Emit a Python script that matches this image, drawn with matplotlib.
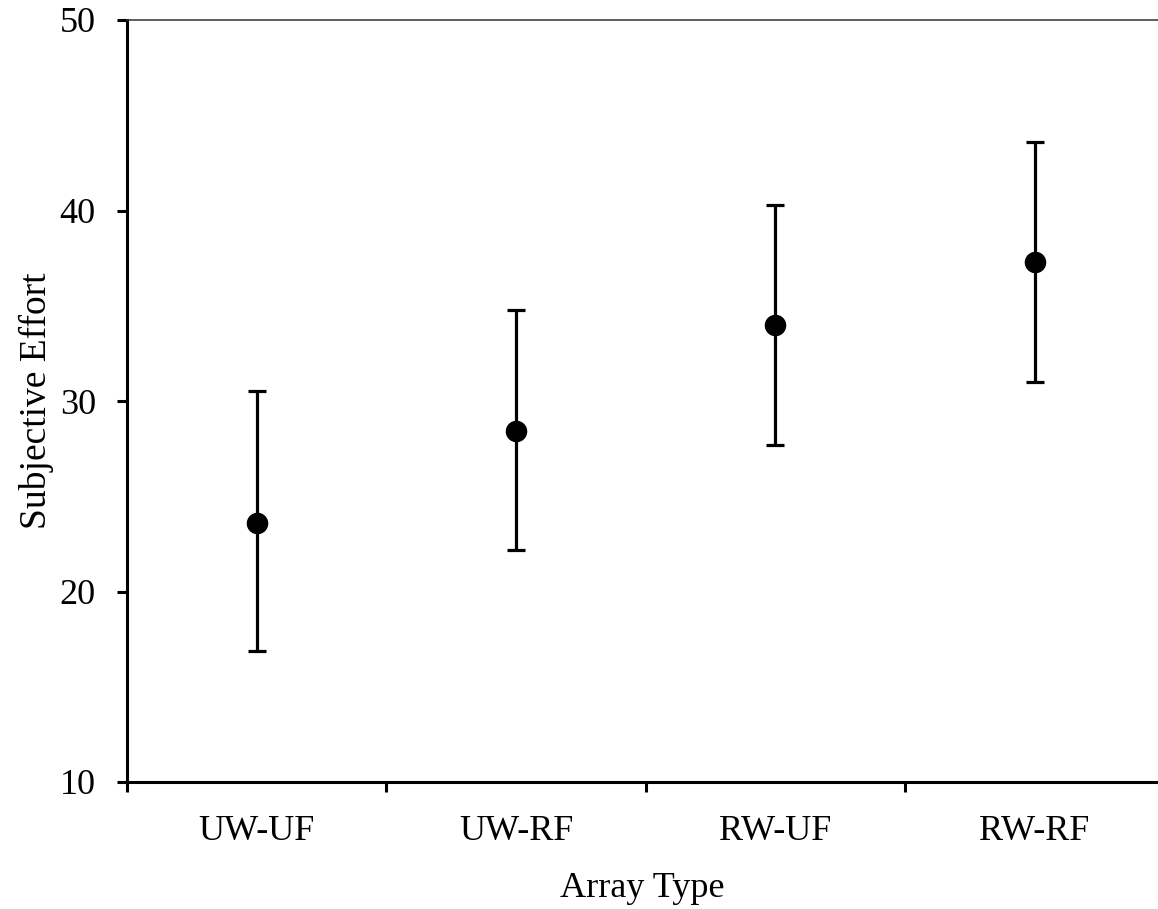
import matplotlib
matplotlib.use("Agg")
import matplotlib.pyplot as plt
import numpy as np

# data
categories = ["UW-UF", "UW-RF", "RW-UF", "RW-RF"]
means = [23.6, 28.4, 34.0, 37.3]
upper = [30.5, 34.8, 40.3, 43.6]
lower = [16.9, 22.2, 27.7, 31.0]

plt.rcParams["font.family"] = ["Liberation Serif", "DejaVu Serif"]

fig = plt.figure(figsize=(11.58, 9.09), dpi=100)
ax = fig.add_axes([127 / 1158, 1 - 782 / 909, 1 - 127 / 1158, (782 - 20) / 909])

x = np.arange(len(categories)) + 0.5
m = np.array(means)
yerr = [m - np.array(lower), np.array(upper) - m]
ax.errorbar(x, m, yerr=yerr, fmt="o", color="black", ms=14.5, elinewidth=2.3,
            capsize=6.5, capthick=2.3, zorder=3)

ax.set_xlim(0, 1031 / 259.3)
ax.set_ylim(10, 50)
ax.set_yticks([10, 20, 30, 40, 50])

# category labels centred between tick marks
ax.set_xticks(x)
ax.set_xticklabels(categories)
ax.set_xticks(np.arange(0, 4), minor=True)
ax.tick_params(axis="x", which="major", length=0, pad=24, labelsize=26)
ax.tick_params(axis="x", which="minor", direction="out", length=7.5, width=2.2)
ax.tick_params(axis="y", direction="out", length=7.5, width=2.2, pad=15, labelsize=26)

for side in ("left", "bottom"):
    ax.spines[side].set_linewidth(2.2)
ax.spines["top"].set_linewidth(1.1)
ax.spines["top"].set_color("#333333")
ax.spines["right"].set_visible(False)

ax.set_xlabel("Array Type", fontsize=26, labelpad=17)
ax.set_ylabel("Subjective Effort", fontsize=27, labelpad=4)

fig.savefig("out.png", dpi=100)
